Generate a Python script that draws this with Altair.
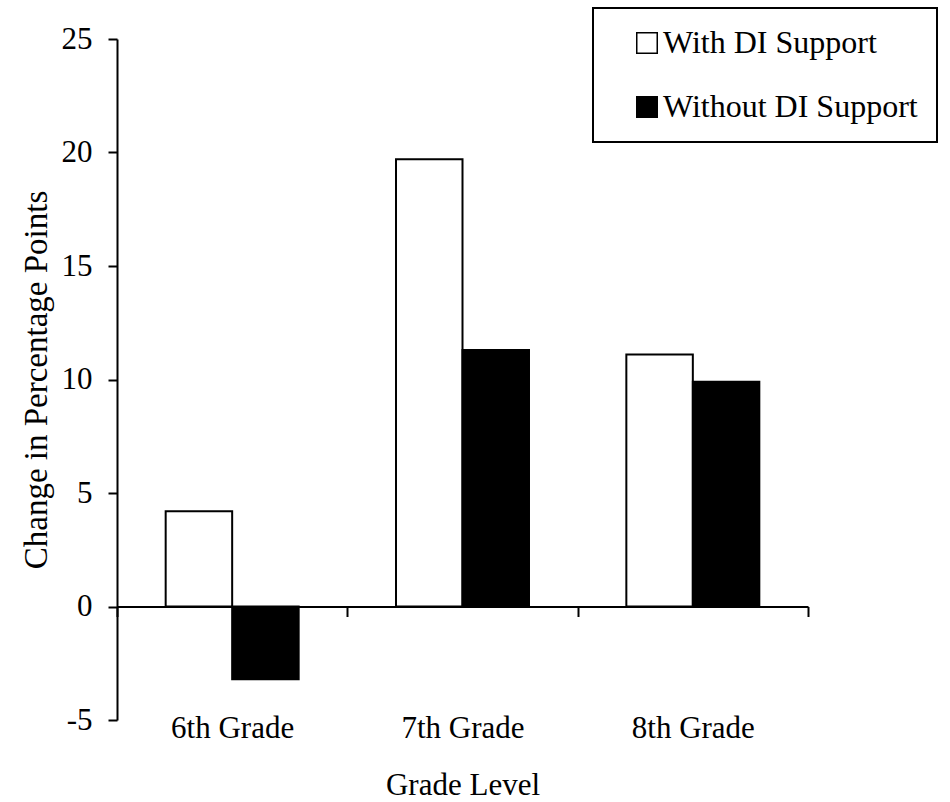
import altair as alt
import pandas as pd

grades = ["6th Grade", "7th Grade", "8th Grade"]
supports = ["With DI Support", "Without DI Support"]
with_di = [4.2, 19.7, 11.1]
without_di = [-3.2, 11.3, 9.9]

rows = []
for g, a, b in zip(grades, with_di, without_di):
    rows.append({"grade": g, "support": supports[0], "value": a})
    rows.append({"grade": g, "support": supports[1], "value": b})
df = pd.DataFrame(rows)

FONT = "Liberation Serif"
W, H = 691, 681

chart = alt.Chart(df).mark_bar(stroke="black", strokeWidth=2).encode(
    x=alt.X(
        "grade:N",
        sort=grades,
        scale=alt.Scale(paddingInner=0, paddingOuter=0),
        axis=alt.Axis(
            orient="bottom",
            offset=-(H * 5 / 30),
            domain=True, domainColor="black", domainWidth=2,
            ticks=True, tickBand="extent", tickSize=10, tickWidth=2, tickColor="black",
            labelFont=FONT, labelFontSize=31, labelColor="black", labelPadding=97, labelAngle=0,
            title="Grade Level", titleFont=FONT, titleFontSize=31, titleFontWeight="normal",
            titleColor="black", titlePadding=27, grid=False,
        ),
    ),
    xOffset=alt.XOffset(
        "support:N", sort=supports,
        scale=alt.Scale(paddingInner=0, paddingOuter=0.732),
    ),
    y=alt.Y(
        "value:Q",
        scale=alt.Scale(domain=[-5, 25], nice=False, zero=False),
        axis=alt.Axis(
            values=[-5, 0, 5, 10, 15, 20, 25],
            labelExpr="datum.value + ''",
            domain=True, domainColor="black", domainWidth=2,
            ticks=True, tickSize=9, tickWidth=2, tickColor="black",
            labelFont=FONT, labelFontSize=31, labelColor="black", labelPadding=16,
            title="Change in Percentage Points", titleFont=FONT, titleFontSize=33,
            titleFontWeight="normal", titleColor="black", titlePadding=8, grid=False,
        ),
    ),
    fill=alt.Fill(
        "support:N", sort=supports,
        scale=alt.Scale(domain=supports, range=["white", "black"]),
        legend=alt.Legend(
            orient="none", legendX=476, legendY=-31, title=None,
            symbolType="square", symbolSize=420, symbolStrokeColor="black",
            symbolStrokeWidth=1.5, symbolOffset=19, labelOffset=0,
            labelFont=FONT, labelFontSize=32, labelColor="black", labelLimit=400,
            rowPadding=32, padding=19, strokeColor="black", fillColor="white",
        ),
    ),
).properties(
    width=W, height=H,
    autosize=alt.AutoSizeParams(type="none"),
    padding={"left": 117, "top": 39, "right": 142, "bottom": 82},
    background="white",
).configure_view(stroke=None).configure_legend(strokeWidth=2)

chart.save("out.html", embed_options={"renderer": "svg", "actions": False})
